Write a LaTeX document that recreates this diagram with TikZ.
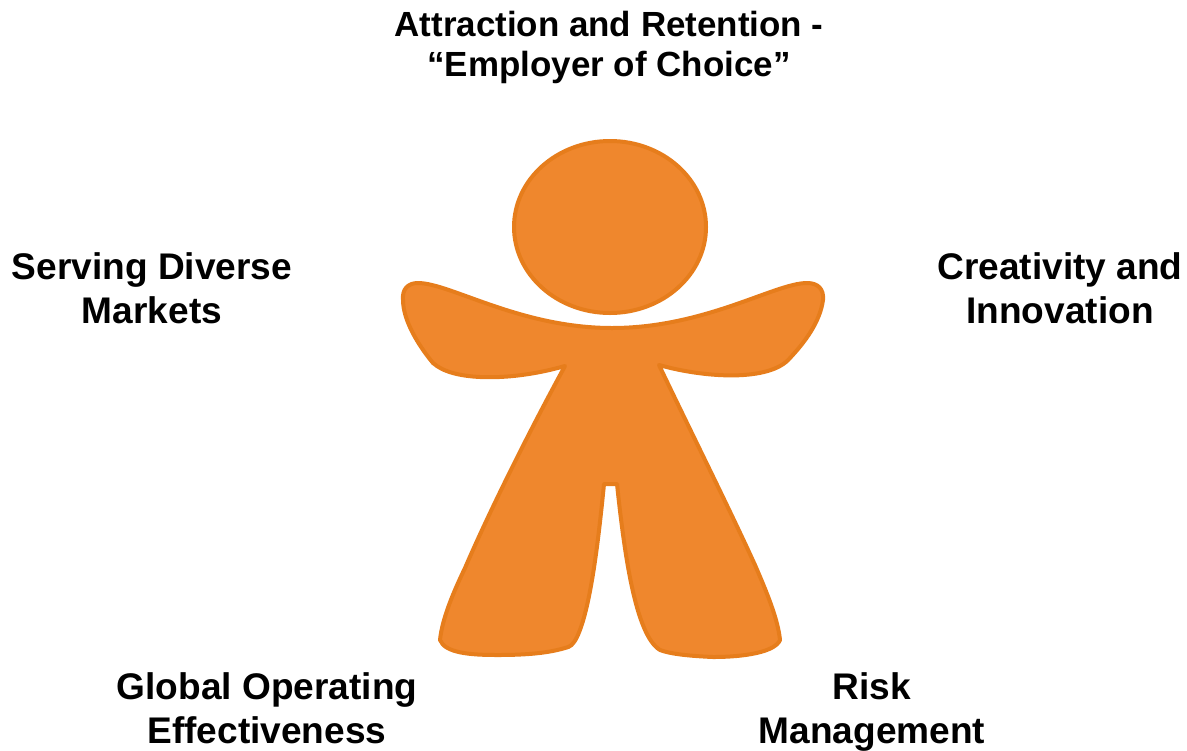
\documentclass[tikz,border=0pt]{standalone}
\usepackage{fontspec}
\setmainfont{Liberation Sans}
\definecolor{bodyfill}{HTML}{EF872D}
\definecolor{bodyline}{HTML}{E67D1C}
\tikzset{
    caption/.style={font=\fontsize{27.8}{33}\selectfont\bfseries, align=center, inner sep=0pt, text=black},
    headline/.style={font=\fontsize{26.2}{30}\selectfont\bfseries, align=center, inner sep=0pt, text=black},
    figure/.style={fill=bodyfill, draw=bodyline, line width=3pt, line join=round}
}
\begin{document}
\begin{tikzpicture}[x=0.75pt, y=-0.75pt]
\useasboundingbox (0,0) rectangle (1187,750);
\begin{scope}
    \draw [figure] (418,283) .. controls (450,283) and (520,328) .. (612,328)
        .. controls (705,328) and (775,283) .. (807,283)
        .. controls (818,283) and (824,289) .. (823,300)
        .. controls (820,322) and (805,342) .. (790,358)
        .. controls (770,382) and (705,378) .. (659,365)
        .. controls (690,430) and (730,510) .. (755,565)
        .. controls (768,595) and (778,620) .. (780,640)
        .. controls (775,652) and (745,657) .. (713,657)
        .. controls (690,656) and (670,654) .. (660,650)
        .. controls (635,635) and (624,550) .. (617,484)
        -- (604,484)
        .. controls (598,545) and (590,610) .. (577,637)
        .. controls (573,645) and (570,647) .. (565,648)
        .. controls (545,654) and (520,655) .. (497,655)
        .. controls (470,655) and (445,653) .. (440,640)
        .. controls (442,620) and (452,595) .. (465,568)
        .. controls (490,510) and (530,430) .. (565,366)
        .. controls (530,376) and (500,378) .. (480,377)
        .. controls (460,376) and (443,372) .. (433,363)
        .. controls (418,345) and (403,320) .. (403,300)
        .. controls (402,289) and (408,283) .. (418,283) -- cycle;
    \draw [figure] (610,227) ellipse [x radius=96, y radius=86];
\end{scope}
\begin{scope}
    \node [headline] (attraction) at (609,47) {Attraction and Retention -\\``Employer of Choice''};
    \node [caption] (serving) at (152,288) {Serving Diverse\\Markets};
    \node [caption] (creativity) at (1060,288) {Creativity and\\Innovation};
    \node [caption] (global) at (267,708) {Global Operating\\Effectiveness};
    \node [caption] (risk) at (872,712) {Risk\\Management};
\end{scope}
\end{tikzpicture}
\end{document}
